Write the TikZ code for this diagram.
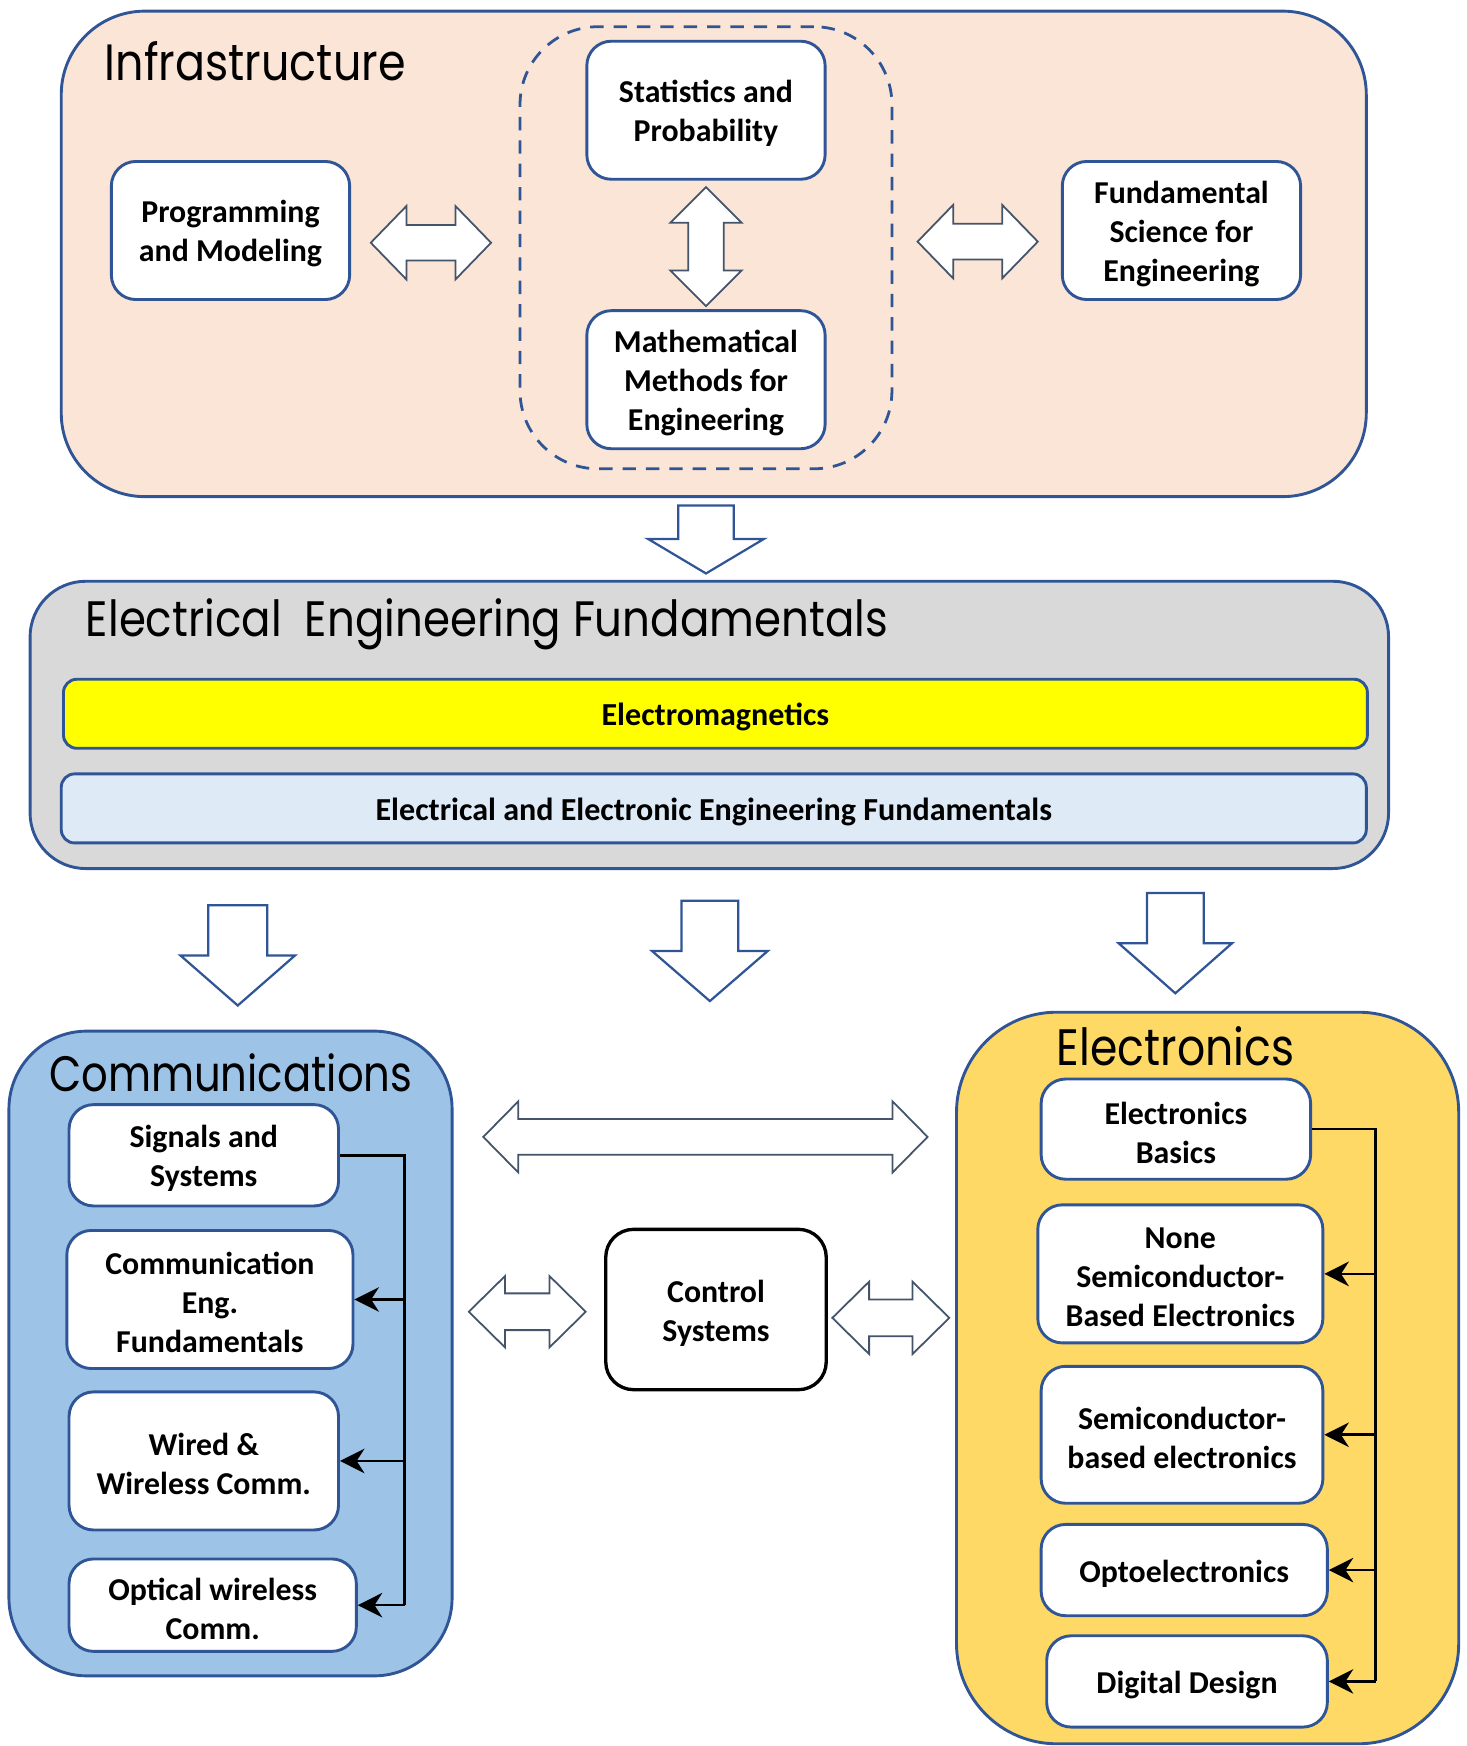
\documentclass[tikz,border=0pt]{standalone}
\usepackage{fontspec}
\usepackage{graphicx}
\setmainfont{Carlito}
\newfontfamily\titlefont{Poppins}
\usetikzlibrary{arrows.meta}
\definecolor{bord}{HTML}{2F5597}
\definecolor{slate}{HTML}{44546A}
\definecolor{peach}{HTML}{FBE5D6}
\definecolor{greyfill}{HTML}{D9D9D9}
\definecolor{emyellow}{HTML}{FFFF00}
\definecolor{eeblue}{HTML}{DEEBF7}
\definecolor{commblue}{HTML}{9DC3E6}
\definecolor{elecgold}{HTML}{FFD966}
\newcommand\dblH[6]{% x1 x2 yc shafthalf headhalf headlen
  \draw[dblarrow] (#1,#3) -- (#1+#6,#3-#5) -- (#1+#6,#3-#4) -- (#2-#6,#3-#4) -- (#2-#6,#3-#5) -- (#2,#3)
    -- (#2-#6,#3+#5) -- (#2-#6,#3+#4) -- (#1+#6,#3+#4) -- (#1+#6,#3+#5) -- cycle;}
\newcommand\dblV[6]{% y1 y2 xc shafthalf headhalf headlen
  \draw[dblarrow] (#3,#1) -- (#3+#5,#1+#6) -- (#3+#4,#1+#6) -- (#3+#4,#2-#6) -- (#3+#5,#2-#6) -- (#3,#2)
    -- (#3-#5,#2-#6) -- (#3-#4,#2-#6) -- (#3-#4,#1+#6) -- (#3-#5,#1+#6) -- cycle;}
\newcommand\downarr[6]{% xc ytop yheadstart ytip shafthalf headhalf
  \draw[downarrow] (#1-#5,#2) -- (#1+#5,#2) -- (#1+#5,#3) -- (#1+#6,#3) -- (#1,#4) -- (#1-#6,#3) -- (#1-#5,#3) -- cycle;}
% box node + its text node, text lowered slightly
\newcommand\bxnode[7]{% style name x y w h text
  \node[#1,minimum width=#5pt,minimum height=#6pt] (#2) at (#3,#4) {};
  \node[boxtext] (#2-t) at ([yshift=-3pt]#2.center) {#7};}
\begin{document}
\begin{tikzpicture}[x=1pt,y=-1pt,
  outerbox/.style={draw=bord,line width=2.6pt,inner sep=0pt},
  inbox/.style={draw=bord,line width=2.6pt,fill=white,rounded corners=22pt,inner sep=0pt},
  ctrlbox/.style={draw=black,line width=3pt,fill=white,rounded corners=25pt,inner sep=0pt},
  boxtext/.style={inner sep=0pt,align=center,font=\bfseries\fontsize{28.6}{35}\selectfont},
  barbox/.style={draw=bord,line width=2.6pt,rounded corners=12pt,inner sep=0pt},
  bartext/.style={inner sep=0pt,font=\bfseries\fontsize{28.8}{35}\selectfont},
  titletext/.style={anchor=base west,inner sep=0pt},
  dblarrow/.style={draw=slate,line width=1.6pt,fill=white,line join=miter},
  downarrow/.style={draw=bord,line width=2pt,fill=white,line join=miter},
  busline/.style={draw=black,line width=2.4pt},
  bustip/.style={busline,-{Stealth[length=22pt,width=22pt,inset=7pt]}}
]
\useasboundingbox (0,0) rectangle (1317,1568);

% ---------- Infrastructure ----------
\node[outerbox,fill=peach,rounded corners=75pt,minimum width=1172pt,minimum height=436pt] (infra) at (641,228) {};
\node[draw=bord,line width=2.5pt,dash pattern=on 12pt off 9pt,rounded corners=70pt,minimum width=334pt,minimum height=397pt,inner sep=0pt] (dashgrp) at (634,222.5) {};
\node[titletext] (tinfra) at (94,72) {\titlefont\resizebox{270pt}{35pt}{Infrastructure}};

\bxnode{inbox}{prog}{207}{207}{214}{124}{Programming\\and Modeling}
\bxnode{inbox}{stat}{634}{99}{214}{124}{Statistics and\\Probability}
\bxnode{inbox}{math}{634}{341}{214}{124}{Mathematical\\Methods for\\Engineering}
\bxnode{inbox}{fund}{1061}{207}{214}{124}{Fundamental\\Science for\\Engineering}

\dblH{333}{441}{218}{16}{33}{32}
\dblH{824}{932}{217}{16}{33}{32}
\dblV{168}{275}{634}{16}{32}{32}

% ---------- Down arrow to EEF ----------
\downarr{634}{454}{484}{515}{25}{52}

% ---------- Electrical Engineering Fundamentals ----------
\node[outerbox,fill=greyfill,rounded corners=50pt,minimum width=1220pt,minimum height=258pt] (eef) at (637,651) {};
\node[titletext] (teef) at (77,572) {\titlefont\resizebox{720pt}{34pt}{Electrical\ \ Engineering Fundamentals}};
\node[barbox,fill=emyellow,minimum width=1171pt,minimum height=62pt] (em) at (642.5,641) {};
\node[bartext] (em-t) at ([yshift=-3pt]em.center) {Electromagnetics};
\node[barbox,fill=eeblue,minimum width=1172pt,minimum height=62pt] (eee) at (641,726) {};
\node[bartext] (eee-t) at ([yshift=-3pt]eee.center) {Electrical and Electronic Engineering Fundamentals};

% ---------- Down arrows ----------
\downarr{213.5}{813}{858}{903}{26.5}{51.5}
\downarr{637.5}{809}{854}{899}{25.5}{52}
\downarr{1055.5}{802}{847}{892}{25.5}{51}

% ---------- Communications ----------
\node[outerbox,fill=commblue,rounded corners=70pt,minimum width=398pt,minimum height=579pt] (comm) at (207,1215.5) {};
\node[titletext] (tcomm) at (44,980) {\titlefont\resizebox{326pt}{34pt}{Communications}};
\bxnode{inbox}{sig}{183}{1037.5}{242}{91}{Signals and\\Systems}
\bxnode{inbox}{ceng}{188.5}{1167}{257}{124}{Communication\\Eng.\\Fundamentals}
\bxnode{inbox}{wired}{183}{1312}{242}{124}{Wired \&\\Wireless Comm.}
\bxnode{inbox}{optic}{191}{1441.5}{258}{83}{Optical wireless\\Comm.}
\draw[busline] (sig.east) -- ++(58,0) coordinate (cbus) -- (cbus |- optic.east);
\draw[bustip] (cbus |- ceng.east) -- (ceng.east);
\draw[bustip] (cbus |- wired.east) -- (wired.east);
\draw[bustip] (cbus |- optic.east) -- (optic.east);

% ---------- Electronics ----------
\node[outerbox,fill=elecgold,rounded corners=90pt,minimum width=451pt,minimum height=657pt] (elec) at (1084.5,1237.5) {};
\node[titletext] (telec) at (949,957) {\titlefont\resizebox{213pt}{35pt}{Electronics}};
\bxnode{inbox}{basics}{1056}{1014}{242}{90}{Electronics\\Basics}
\bxnode{inbox}{nsemi}{1060}{1144}{256}{124}{None\\Semiconductor-\\Based Electronics}
\bxnode{inbox}{semi}{1061.5}{1288.5}{253}{123}{Semiconductor-\\based electronics}
\bxnode{inbox}{opto}{1063.5}{1410}{257}{82}{Optoelectronics}
\bxnode{inbox}{dig}{1066}{1510}{252}{82}{Digital Design}
\draw[busline] (basics.east) -- ++(57,0) coordinate (ebus) -- (ebus |- dig.east);
\draw[bustip] (ebus |- nsemi.east) -- (nsemi.east);
\draw[bustip] (ebus |- semi.east) -- (semi.east);
\draw[bustip] (ebus |- opto.east) -- (opto.east);
\draw[bustip] (ebus |- dig.east) -- (dig.east);

% ---------- Middle ----------
\dblH{434}{833}{1021}{16}{32}{31.5}
\bxnode{ctrlbox}{ctrl}{643}{1176}{198}{144}{Control\\Systems}
\dblH{421}{526}{1178}{16.5}{32}{32.5}
\dblH{747.5}{852.5}{1183.5}{16.5}{32.5}{33}
\end{tikzpicture}
\end{document}
